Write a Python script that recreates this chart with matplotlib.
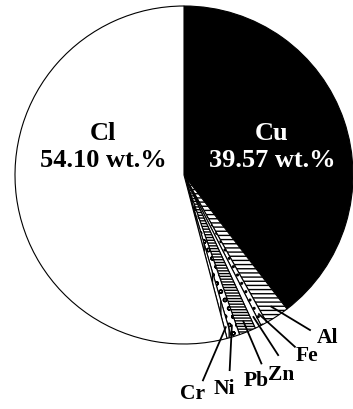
import matplotlib
matplotlib.use("Agg")
import matplotlib.pyplot as plt
import numpy as np

plt.rcParams["font.family"] = ["Liberation Serif", "DejaVu Serif"]
plt.rcParams["hatch.linewidth"] = 1.0

# composition, clockwise from 12 o'clock
elements = ["Cu", "Al", "Fe", "Zn", "Pb", "Ni", "Cr", "Cl"]
wt_pct = [39.57, 2.30, 0.60, 0.60, 1.60, 0.80, 0.43, 54.10]
faces = ["black", "white", "white", "white", "white", "white", "white", "white"]
hatches = [None, "----", "..", ".", "------", "oo", "||", None]

# small slices get a leader line and an outside label
small = ["Al", "Fe", "Zn", "Pb", "Ni", "Cr"]
label_xy = {"Al": (0.85, -0.96), "Fe": (0.73, -1.065), "Zn": (0.575, -1.175),
            "Pb": (0.43, -1.215), "Ni": (0.24, -1.26), "Cr": (0.05, -1.29)}
line_end = {"Al": (0.75, -0.92), "Fe": (0.66, -1.02), "Zn": (0.56, -1.07),
            "Pb": (0.46, -1.12), "Ni": (0.27, -1.16), "Cr": (0.11, -1.22)}

fig = plt.figure(figsize=(3.53, 4.10), dpi=100)
ax = fig.add_axes([0, 0, 1, 1])

wedges, _ = ax.pie(wt_pct, colors=faces, startangle=90, counterclock=False,
                   wedgeprops=dict(edgecolor="black", linewidth=0.8))
for w, h in zip(wedges, hatches):
    if h:
        w.set_hatch(h)

scale = 169.0
ax.set_xlim(-184 / scale, (353 - 184) / scale)
ax.set_ylim(-(410 - 176) / scale, 176 / scale)
ax.set_aspect("equal")
ax.axis("off")

big = dict(fontsize=19, fontweight="bold", ha="center", va="center", linespacing=1.2)
ax.text(-0.48, 0.17, f"Cl\n{wt_pct[7]:.2f} wt.%", color="black", **big)
ax.text(0.52, 0.17, f"Cu\n{wt_pct[0]:.2f} wt.%", color="white", **big)

for name in small:
    w = wedges[elements.index(name)]
    mid = np.deg2rad((w.theta1 + w.theta2) / 2)
    x0, y0 = 0.93 * np.cos(mid), 0.93 * np.sin(mid)
    x1, y1 = line_end[name]
    ax.plot([x0, x1], [y0, y1], color="black", lw=1.3, solid_capstyle="butt")
    ax.text(*label_xy[name], name, fontsize=15.5, fontweight="bold",
            ha="center", va="center")

fig.savefig("out.png", dpi=100)
